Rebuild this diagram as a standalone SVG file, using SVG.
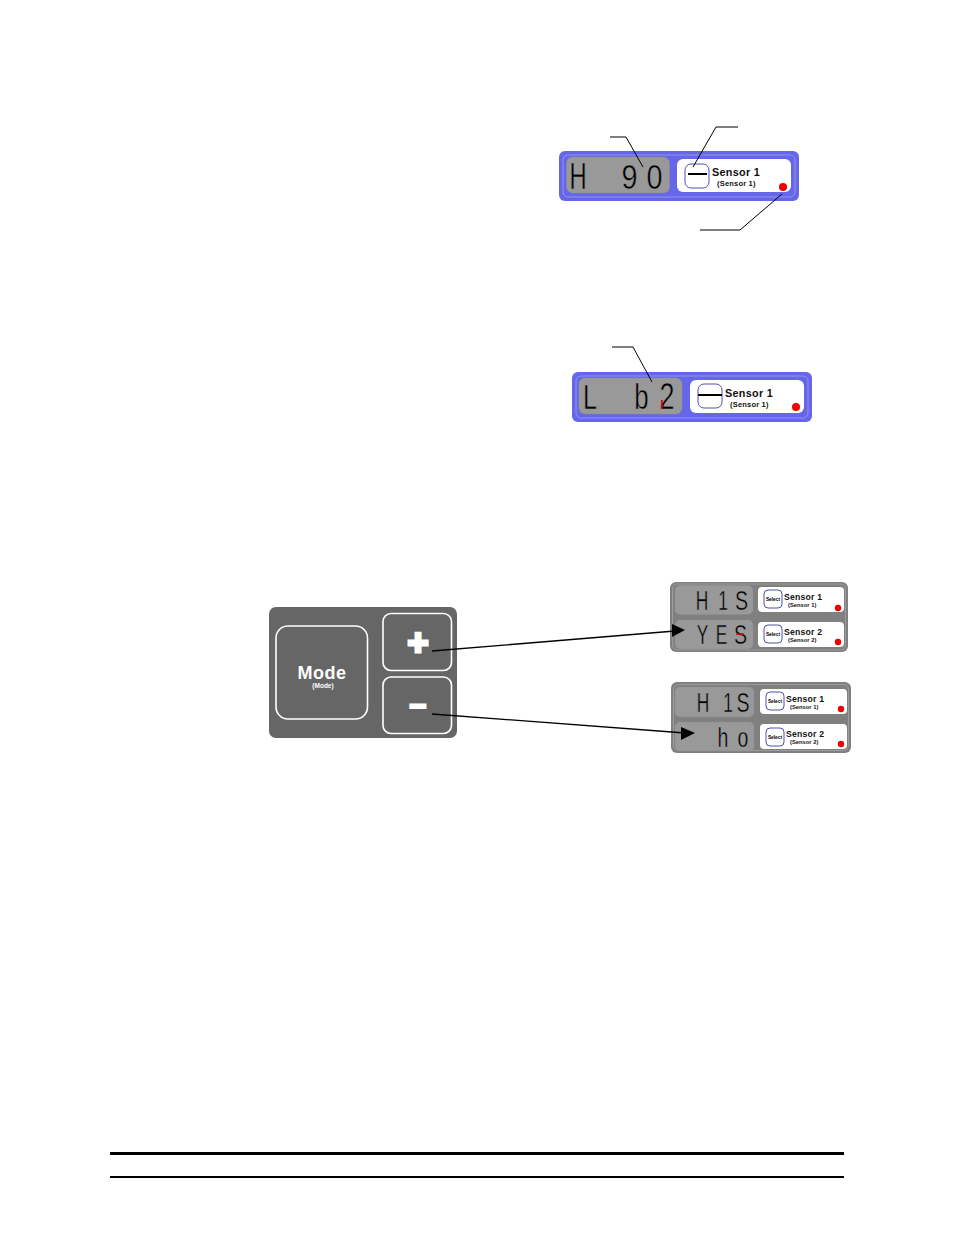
<svg xmlns="http://www.w3.org/2000/svg" width="954" height="1235" viewBox="0 0 954 1235">
<style>
text{font-family:"Liberation Sans",Arial,sans-serif}
.blue{fill:#6666e8}
.gray{fill:#808080}
.inner{fill:none;stroke:#a6a6f2;stroke-width:.7}
.innerg{fill:none;stroke:#a8a8a8;stroke-width:.7}
.lcd{fill:#999;stroke:#8c8c8c;stroke-width:.5}
.win{fill:#fff}
.btn{fill:#fff;stroke:#5050a8;stroke-width:1}
.seg{font-size:36px;text-anchor:middle;fill:#000;stroke:#999;stroke-width:.6}
.segs{font-size:28px;text-anchor:middle;fill:#000;stroke:#999;stroke-width:.5}
.t1{font-size:10.8px;font-weight:bold;fill:#111;letter-spacing:.3px}
.t2{font-size:7.500px;font-weight:bold;fill:#111;letter-spacing:.2px}
.t3{font-size:8.700px;font-weight:bold;fill:#111;letter-spacing:.2px}
.t4{font-size:5.800px;font-weight:bold;fill:#111}
.sel{font-size:4.800px;font-weight:bold;fill:#000;text-anchor:middle}
.dot{fill:#f00000}
.lead{fill:none;stroke:#000;stroke-width:1}
.arr{fill:none;stroke:#000;stroke-width:1.3}
.key{fill:none;stroke:#fff;stroke-width:1.6}
</style>
<g id="display-1">
<rect class="blue" x="559" y="151" width="240" height="50" rx="6"/>
<rect class="inner" x="563" y="155" width="232" height="42" rx="5"/>
<rect class="lcd" x="566.500" y="157" width="103" height="36" rx="6"/>
<rect class="win" x="677" y="159" width="114" height="33" rx="6"/>
<rect class="btn" x="685" y="164" width="24" height="24" rx="6"/>
<rect x="688" y="173" width="19" height="2" fill="#000"/>
<text class="seg" transform="translate(578,189) scale(.66,1)">H</text>
<text class="seg" transform="translate(629.500,189) scale(.8,1)">9</text>
<text class="seg" transform="translate(654.500,189) scale(.8,1)">0</text>
<text class="t1" x="712" y="176">Sensor 1</text>
<text class="t2" x="717" y="186">(Sensor 1)</text>
<circle class="dot" cx="783" cy="187" r="4"/>
</g>
<g id="display-2">
<rect class="blue" x="572" y="372" width="240" height="50" rx="6"/>
<rect class="inner" x="576" y="376" width="232" height="42" rx="5"/>
<rect class="lcd" x="579" y="378" width="103" height="36" rx="6"/>
<rect class="win" x="690" y="380" width="114" height="33" rx="6"/>
<rect class="btn" x="698" y="384" width="24" height="24" rx="6"/>
<rect x="698" y="394" width="24" height="2" fill="#000"/>
<text class="seg" transform="translate(590,409) scale(.7,1)">L</text>
<text class="seg" transform="translate(641.500,409) scale(.72,1)">b</text>
<text class="seg" transform="translate(667,409) scale(.75,1)">2</text>
<rect x="661" y="400" width="1.600" height="9" fill="#e00000"/>
<text class="t1" x="725" y="397">Sensor 1</text>
<text class="t2" x="730" y="407">(Sensor 1)</text>
<circle class="dot" cx="796" cy="407" r="4"/>
</g>
<g id="keypad">
<rect x="269" y="607" width="188" height="131" rx="7" fill="#666"/>
<rect class="key" x="276" y="626" width="91.500" height="93" rx="12"/>
<rect class="key" x="383" y="613.500" width="68.500" height="57" rx="8"/>
<rect class="key" x="383" y="677" width="68.500" height="56.500" rx="8"/>
<text x="322" y="679" font-size="18" font-weight="bold" fill="#fff" text-anchor="middle" letter-spacing=".5">Mode</text>
<text x="323" y="688" font-size="6.500" font-weight="bold" fill="#fff" text-anchor="middle">(Mode)</text>
<text x="418" y="655" font-size="36" font-weight="bold" fill="#fff" stroke="#fff" stroke-width="3" text-anchor="middle">+</text>
<text x="418" y="716" font-size="30" font-weight="bold" fill="#fff" stroke="#fff" stroke-width="2" text-anchor="middle">−</text>
</g>
<g id="status-yes">
<rect class="gray" x="670" y="582" width="178" height="70" rx="6"/>
<rect class="innerg" x="672.500" y="584" width="173" height="66" rx="5"/>
<rect class="lcd" x="675" y="585.500" width="78" height="29" rx="5"/>
<rect class="lcd" x="675" y="620" width="78" height="29" rx="5"/>
<rect class="win" x="758" y="587" width="86" height="25" rx="4"/>
<rect class="win" x="758" y="622" width="86" height="25" rx="4"/>
<rect class="btn" x="764" y="590" width="18" height="18" rx="4"/>
<rect class="btn" x="764" y="625" width="18" height="18" rx="4"/>
<text class="sel" x="773" y="601">Select</text>
<text class="sel" x="773" y="636">Select</text>
<text class="segs" transform="translate(702,610) scale(.62,1)">H</text>
<text class="segs" transform="translate(723,610) scale(.62,1)">1</text>
<text class="segs" transform="translate(741.500,610) scale(.7,1)">S</text>
<text class="segs" transform="translate(702.500,644) scale(.62,1)">Y</text>
<text class="segs" transform="translate(721.500,644) scale(.62,1)">E</text>
<text class="segs" transform="translate(740.500,644) scale(.7,1)">S</text>
<rect x="736" y="633.500" width="8" height="1.300" fill="#e00000"/>
<text class="t3" x="784" y="600">Sensor 1</text>
<text class="t4" x="788" y="607">(Sensor 1)</text>
<text class="t3" x="784" y="635">Sensor 2</text>
<text class="t4" x="788" y="642">(Sensor 2)</text>
<circle class="dot" cx="838" cy="608" r="3.200"/>
<circle class="dot" cx="838" cy="642" r="3.200"/>
</g>
<g id="status-no">
<rect class="gray" x="671" y="682" width="180" height="71" rx="6"/>
<rect class="innerg" x="673.500" y="684.500" width="175" height="66" rx="5"/>
<rect class="lcd" x="675" y="687" width="79" height="30" rx="5"/>
<rect class="lcd" x="675" y="722" width="79" height="29" rx="5"/>
<rect class="win" x="760" y="689" width="87" height="25" rx="4"/>
<rect class="win" x="760" y="724" width="87" height="25" rx="4"/>
<rect class="btn" x="766" y="692" width="18" height="18" rx="4"/>
<rect class="btn" x="766" y="728" width="18" height="18" rx="4"/>
<text class="sel" x="775" y="703">Select</text>
<text class="sel" x="775" y="739">Select</text>
<text class="segs" transform="translate(703,712) scale(.62,1)">H</text>
<text class="segs" transform="translate(728,712) scale(.62,1)">1</text>
<text class="segs" transform="translate(743,712) scale(.7,1)">S</text>
<text class="segs" transform="translate(723,747) scale(.7,1)">h</text>
<text class="segs" transform="translate(743,747) scale(.7,1)">o</text>
<text class="t3" x="786" y="702">Sensor 1</text>
<text class="t4" x="790" y="709">(Sensor 1)</text>
<text class="t3" x="786" y="737">Sensor 2</text>
<text class="t4" x="790" y="744">(Sensor 2)</text>
<circle class="dot" cx="841" cy="709" r="3.200"/>
<circle class="dot" cx="841" cy="744" r="3.200"/>
</g>
<g id="connectors">
<polyline class="lead" points="610,137 626,137 643,167"/>
<polyline class="lead" points="738,127 716,127 693,167"/>
<polyline class="lead" points="700,230 740,230 782,194"/>
<polyline class="lead" points="612,347 633,347 652,382"/>
<line class="arr" x1="432" y1="651" x2="675" y2="631"/>
<polygon points="685,630 672,624 672,637" fill="#000"/>
<line class="arr" x1="432" y1="714" x2="685" y2="733"/>
<polygon points="695,733 681,727 681,740" fill="#000"/>
</g>
<g id="footer">
<rect x="110" y="1152" width="734" height="3" fill="#000"/>
<rect x="110" y="1176" width="734" height="2" fill="#000"/>
</g>
</svg>
